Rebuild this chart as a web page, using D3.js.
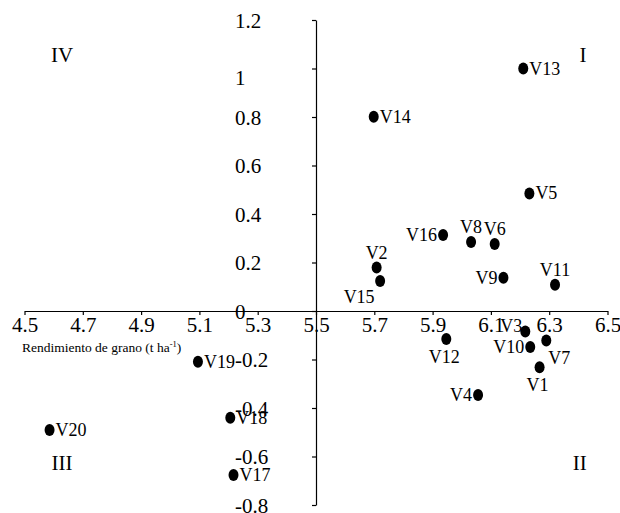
<!DOCTYPE html>
<html>
<head>
<meta charset="utf-8">
<script src="https://cdn.jsdelivr.net/npm/d3@7"></script>
<style>
  body { margin: 0; background: #fff; }
  svg { font-family: "Liberation Serif", "Times New Roman", serif; }
</style>
</head>
<body>
<script>
// Data
const names = ["V1","V2","V3","V4","V5","V6","V7","V8","V9","V10",
               "V11","V12","V13","V14","V15","V16","V17","V18","V19","V20"];
const rendimiento = [6.267, 5.708, 6.218, 6.056, 6.232, 6.113, 6.29, 6.032, 6.143, 6.235,
                     6.32, 5.947, 6.211, 5.698, 5.72, 5.936, 5.217, 5.206, 5.095, 4.586];
const yValues = [-0.232, 0.179, -0.085, -0.346, 0.485, 0.276, -0.122, 0.285, 0.137, -0.148,
                 0.108, -0.115, 1.0, 0.801, 0.124, 0.313, -0.676, -0.44, -0.209, -0.491];
const xTicks = [4.5, 4.7, 4.9, 5.1, 5.3, 5.5, 5.7, 5.9, 6.1, 6.3, 6.5];
const yTicks = [-0.8, -0.6, -0.4, -0.2, 0, 0.2, 0.4, 0.6, 0.8, 1, 1.2];
const quadrants = ["I", "II", "III", "IV"];
const xTitle = "Rendimiento de grano (t ha";

// where each label sits around its dot
const labelPos = {
  V1: "below", V2: "above", V3: "leftup", V4: "left", V5: "right",
  V6: "above", V7: "belowright", V8: "above", V9: "left", V10: "left",
  V11: "above", V12: "below", V13: "right", V14: "right", V15: "belowleft",
  V16: "left", V17: "right", V18: "right", V19: "right", V20: "right"
};

const w = 620, h = 513;
const x = d3.scaleLinear().domain([4.5, 6.5]).range([24.5, 607.5]);
const y = d3.scaleLinear().domain([-0.8, 1.2]).range([505, 20]);

const svg = d3.select("body").append("svg")
  .attr("width", w).attr("height", h);

const fmt = d => String(+d.toFixed(1));

// x axis crosses at y = 0
const gx = svg.append("g")
  .attr("transform", `translate(0,${y(0)})`)
  .call(d3.axisBottom(x).tickValues(xTicks).tickFormat(fmt)
    .tickSize(4).tickSizeOuter(0).tickPadding(2));

// y axis crosses at x = 5.5
const gy = svg.append("g")
  .attr("transform", `translate(${x(5.5)},0)`)
  .call(d3.axisLeft(y).tickValues(yTicks).tickFormat(fmt)
    .tickSize(4).tickSizeOuter(0));

[gx, gy].forEach(g => {
  g.attr("font-family", null);
  g.selectAll("path, line").attr("stroke", "#000").attr("stroke-width", 1.2);
  g.selectAll("text")
    .attr("fill", "#000")
    .style("font-family", "'Liberation Serif', serif")
    .style("font-size", "21px");
});

// y labels sit left-aligned well away from the axis
gy.selectAll("text")
  .attr("text-anchor", "start")
  .attr("x", 235 - x(5.5))
  .attr("dy", d => d === 1 ? "0.75em" : "0.35em");

// axis title
const title = svg.append("text")
  .attr("x", 22)
  .attr("y", 352)
  .style("font-size", "13.5px")
  .text(xTitle);
title.append("tspan").attr("dy", -5).style("font-size", "8.5px").text("-1");
title.append("tspan").attr("dy", 5).text(")");

// quadrant labels
const qx = { I: 6.416, II: 6.405, III: 4.629, IV: 4.629 };
const qy = { I: 1.027, II: -0.656, III: -0.656, IV: 1.027 };
svg.selectAll(".quad")
  .data(quadrants)
  .enter()
  .append("text")
  .attr("class", "quad")
  .attr("x", d => x(qx[d]))
  .attr("y", d => y(qy[d]))
  .attr("text-anchor", "middle")
  .style("font-size", "21px")
  .text(d => d);

// points
const points = names.map((n, i) => ({ name: n, x: rendimiento[i], y: yValues[i] }));

svg.selectAll(".dot")
  .data(points)
  .enter()
  .append("ellipse")
  .attr("class", "dot")
  .attr("cx", d => x(d.x))
  .attr("cy", d => y(d.y))
  .attr("rx", 5)
  .attr("ry", 6)
  .attr("fill", "#000");

const offsets = {
  right:      { dx: 6,  dy: 6,   anchor: "start" },
  left:       { dx: -6, dy: 6,   anchor: "end" },
  leftup:     { dx: -3, dy: 0,   anchor: "end" },
  above:      { dx: 0,  dy: -9,  anchor: "middle" },
  below:      { dx: -2, dy: 24,  anchor: "middle" },
  belowright: { dx: 13, dy: 23,  anchor: "middle" },
  belowleft:  { dx: -21, dy: 22, anchor: "middle" }
};

svg.selectAll(".lbl")
  .data(points)
  .enter()
  .append("text")
  .attr("class", "lbl")
  .attr("x", d => x(d.x) + offsets[labelPos[d.name]].dx)
  .attr("y", d => y(d.y) + offsets[labelPos[d.name]].dy)
  .attr("text-anchor", d => offsets[labelPos[d.name]].anchor)
  .style("font-size", "18px")
  .text(d => d.name);
</script>
</body>
</html>
